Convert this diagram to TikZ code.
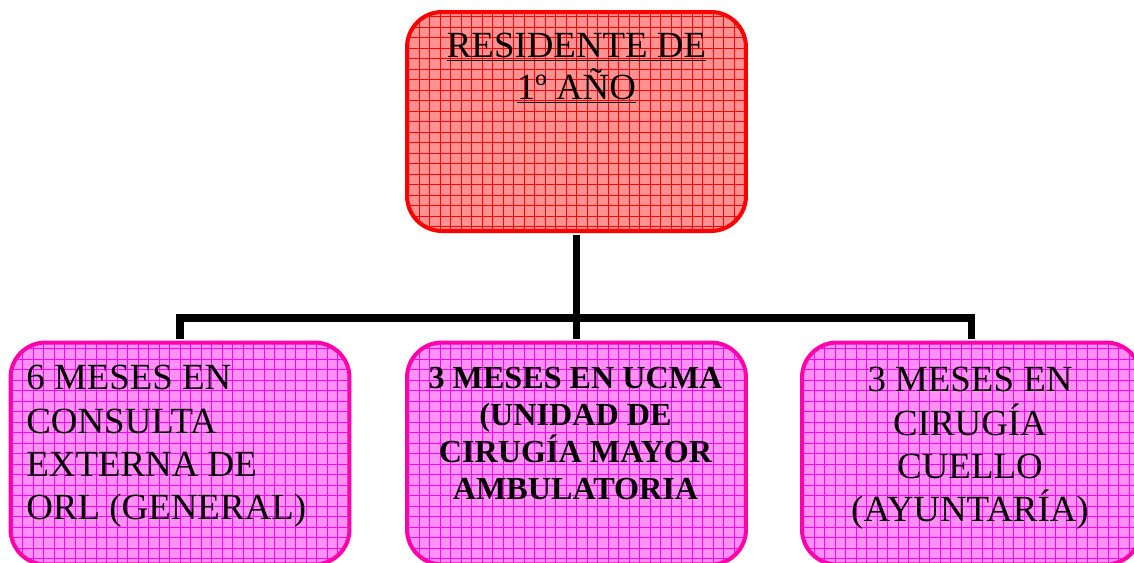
\documentclass[tikz,border=0pt]{standalone}
\usepackage{fontspec}
\setmainfont{Liberation Serif}
\definecolor{rojoborde}{RGB}{255,0,0}
\definecolor{rojofondo}{RGB}{255,145,145}
\definecolor{rojorejilla}{RGB}{255,0,0}
\definecolor{rosaborde}{RGB}{255,0,170}
\definecolor{rosafondo}{RGB}{255,145,245}
\definecolor{rosarejilla}{RGB}{255,0,255}
\begin{document}
\begin{tikzpicture}[x=0.02cm,y=-0.02cm,
    caja/.style={rounded corners=0.7cm, minimum width=6.78cm, minimum height=4.38cm,
      inner sep=0pt, line width=2.3pt},
    cajaroja/.style={caja, draw=rojoborde, fill=rojofondo,
      path picture={\draw[rojorejilla, line width=0.5pt] (path picture bounding box.south west)
        grid[step=0.21cm] (path picture bounding box.north east);}},
    cajarosa/.style={caja, minimum height=4.44cm, draw=rosaborde, fill=rosafondo,
      path picture={\draw[rosarejilla, line width=0.5pt] (path picture bounding box.south west)
        grid[step=0.21cm] (path picture bounding box.north east);}},
    texto/.style={inner sep=0pt, text=black},
    enlace/.style={line width=4pt, shorten <=1.1pt, shorten >=1.1pt}]

    \useasboundingbox (0,0) rectangle (1134,562);

    % cajas
    \node[cajaroja] (residente) at (576.5,121.5) {};
    \node[cajarosa] (consulta) at (180,453.5) {};
    \node[cajarosa] (ucma) at (576.5,453.5) {};
    \node[cajarosa] (cuello) at (971.5,453.5) {};

    % uniones
    \coordinate (cruce) at (576.5,318);
    \draw[enlace] (residente.south) -- (cruce);
    \draw[enlace] (cruce) -- (ucma.north);
    \draw[enlace] (consulta.north) |- (cruce) -| (cuello.north);

    % textos
    \node[texto, anchor=north, align=center, font=\fontsize{21}{23.7}\selectfont]
      (residenteTexto) at (576.5,33) {\underline{RESIDENTE DE}\\\underline{1º AÑO}};
    \node[texto, anchor=north west, align=left, font=\fontsize{21}{24.6}\selectfont]
      (consultaTexto) at (26,365) {6 MESES EN\\CONSULTA\\EXTERNA DE\\ORL (GENERAL)};
    \node[texto, anchor=north, align=center, font=\bfseries\fontsize{18.3}{21.1}\selectfont]
      (ucmaTexto) at (575.5,367) {3 MESES EN UCMA\\(UNIDAD DE\\CIRUGÍA MAYOR\\AMBULATORIA};
    \node[texto, anchor=north, align=center, font=\fontsize{21}{24.6}\selectfont]
      (cuelloTexto) at (970,367) {3 MESES EN\\CIRUGÍA\\CUELLO\\(AYUNTARÍA)};

\end{tikzpicture}
\end{document}
